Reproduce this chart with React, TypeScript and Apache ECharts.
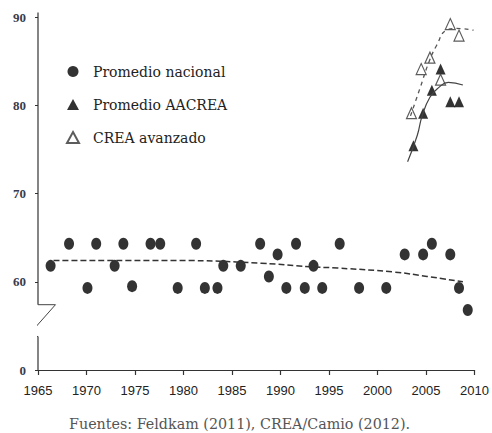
import React, { useEffect, useRef } from "react";
import * as echarts from "echarts";

const xTicks = [1965, 1970, 1975, 1980, 1985, 1990, 1995, 2000, 2005, 2010];
const yTickValues = [50, 60, 70, 80, 90];
const yTickLabels = ["0", "60", "70", "80", "90"];

const nacionalYears = [1966.3, 1968.2, 1970.1, 1971.0, 1972.9, 1973.8, 1974.7, 1976.6, 1977.6, 1979.4, 1981.3, 1982.2, 1983.5, 1984.1, 1985.9, 1987.9, 1988.8, 1989.7, 1990.6, 1991.6, 1992.5, 1993.4, 1994.3, 1996.1, 1998.1, 2000.9, 2002.8, 2004.7, 2005.6, 2007.5, 2008.4, 2009.3];
const nacionalValues = [61.8, 64.3, 59.3, 64.3, 61.8, 64.3, 59.5, 64.3, 64.3, 59.3, 64.3, 59.3, 59.3, 61.8, 61.8, 64.3, 60.6, 63.1, 59.3, 64.3, 59.3, 61.8, 59.3, 64.3, 59.3, 59.3, 63.1, 63.1, 64.3, 63.1, 59.3, 56.8];

const aacreaYears = [2003.7, 2004.7, 2005.6, 2006.5, 2007.5, 2008.4];
const aacreaValues = [75.4, 79.1, 81.7, 84.1, 80.4, 80.4];

const avanzadoYears = [2003.5, 2004.5, 2005.4, 2006.5, 2007.5, 2008.4];
const avanzadoValues = [79.1, 84.1, 85.4, 82.9, 89.2, 87.9];

const nacionalTrendYears = [1966.6, 1979.5, 1988, 1993.1, 1995.9, 2001.7, 2005.1, 2008.8];
const nacionalTrendValues = [62.4, 62.4, 62.1, 61.7, 61.55, 61.1, 60.6, 60.0];

const aacreaTrendYears = [2003.1, 2004.1, 2004.6, 2005.4, 2006.3, 2007.3, 2008.8];
const aacreaTrendValues = [73.6, 76.6, 78.8, 80.9, 82.0, 82.6, 82.3];

const avanzadoTrendYears = [2003.4, 2004.4, 2005.3, 2006.1, 2007.1, 2008.1, 2009.9];
const avanzadoTrendValues = [78.8, 82.0, 84.9, 86.8, 88.5, 88.7, 88.5];

// axis break (in axis units)
const breakTop = 57.4;
const breakBottom = 53.8;
const axisTop = 90.5;

const zip = (xs: number[], ys: number[]) => xs.map((x, i) => [x, ys[i]]);

const serif = "'DejaVu Serif', serif";

export default function App() {
  const ref = useRef<HTMLDivElement>(null);
  useEffect(() => {
    if (!ref.current) return;
    const chart = echarts.init(ref.current, null, { renderer: "svg" });
    const axisX = xTicks[0];
    chart.setOption({
      animation: false,
      backgroundColor: "#ffffff",
      title: {
        text: "Fuentes: Feldkam (2011), CREA/Camio (2012).",
        left: 64,
        top: 412,
        textStyle: { fontFamily: serif, fontSize: 14.3, fontWeight: "normal", color: "#555" },
      },
      legend: {
        orient: "vertical",
        left: 61,
        top: 59,
        itemWidth: 12,
        itemHeight: 11,
        itemGap: 18,
        data: ["Promedio nacional", "Promedio AACREA", "CREA avanzado"],
        textStyle: { fontFamily: serif, fontSize: 14, color: "#222", lineHeight: 15, padding: [0, 0, 0, 9] },
      },
      grid: { left: 38, right: 14, top: 17, bottom: 63 },
      xAxis: {
        type: "value",
        min: xTicks[0],
        max: xTicks[xTicks.length - 1],
        interval: 5,
        splitLine: { show: false },
        axisLine: { lineStyle: { color: "#333", width: 1.2 } },
        axisTick: { length: 5, lineStyle: { color: "#333", width: 1.2 } },
        axisLabel: {
          margin: 14,
          color: "#222",
          fontSize: 13,
          fontFamily: "'Liberation Sans Narrow', 'Arial Narrow', 'Liberation Sans', sans-serif",
          formatter: (v: number) => String(v),
        },
      },
      yAxis: {
        type: "value",
        min: yTickValues[0],
        max: yTickValues[yTickValues.length - 1],
        interval: 10,
        splitLine: { show: false },
        axisLine: { show: false },
        axisTick: { show: true, length: 3, lineStyle: { color: "#333" } },
        axisLabel: {
          margin: 12,
          color: "#3a3a4a",
          fontSize: 13,
          fontWeight: "bold",
          fontFamily: "'Liberation Serif', serif",
          formatter: (v: number) => yTickLabels[yTickValues.indexOf(v)] ?? String(v),
        },
      },
      series: [
        {
          type: "line",
          data: [[axisX, yTickValues[0]], [axisX, breakBottom]],
          symbol: "none",
          clip: false,
          silent: true,
          lineStyle: { color: "#333", width: 1.2 },
        },
        {
          type: "line",
          data: [[axisX, breakTop], [axisX, axisTop]],
          symbol: "none",
          clip: false,
          silent: true,
          lineStyle: { color: "#333", width: 1.2 },
        },
        {
          type: "line",
          data: [[axisX, breakTop], [1966.8, breakTop], [1963.9, breakBottom], [axisX, breakBottom]],
          symbol: "none",
          clip: false,
          silent: true,
          lineStyle: { color: "#444", width: 1 },
        },
        {
          type: "line",
          data: zip(nacionalTrendYears, nacionalTrendValues),
          smooth: true,
          symbol: "none",
          silent: true,
          lineStyle: { color: "#333", width: 1.5, type: [6, 3] },
        },
        {
          type: "line",
          data: zip(aacreaTrendYears, aacreaTrendValues),
          smooth: true,
          symbol: "none",
          silent: true,
          lineStyle: { color: "#444", width: 1.2 },
        },
        {
          type: "line",
          data: zip(avanzadoTrendYears, avanzadoTrendValues),
          smooth: true,
          symbol: "none",
          silent: true,
          lineStyle: { color: "#555", width: 1.3, type: [4, 4] },
        },
        {
          name: "Promedio nacional",
          type: "scatter",
          data: zip(nacionalYears, nacionalValues),
          symbol: "circle",
          symbolSize: [10, 12],
          itemStyle: { color: "#000" },
        },
        {
          name: "Promedio AACREA",
          type: "scatter",
          data: zip(aacreaYears, aacreaValues),
          symbol: "triangle",
          symbolSize: [10, 11],
          itemStyle: { color: "#000" },
        },
        {
          name: "CREA avanzado",
          type: "scatter",
          data: zip(avanzadoYears, avanzadoValues),
          symbol: "triangle",
          symbolSize: [10, 11],
          itemStyle: { color: "#fff", borderColor: "#333", borderWidth: 1.2 },
        },
      ],
    });
    return () => chart.dispose();
  }, []);
  return <div ref={ref} style={{ width: 492, height: 433, position: "fixed", left: 0, top: 0 }} />;
}
